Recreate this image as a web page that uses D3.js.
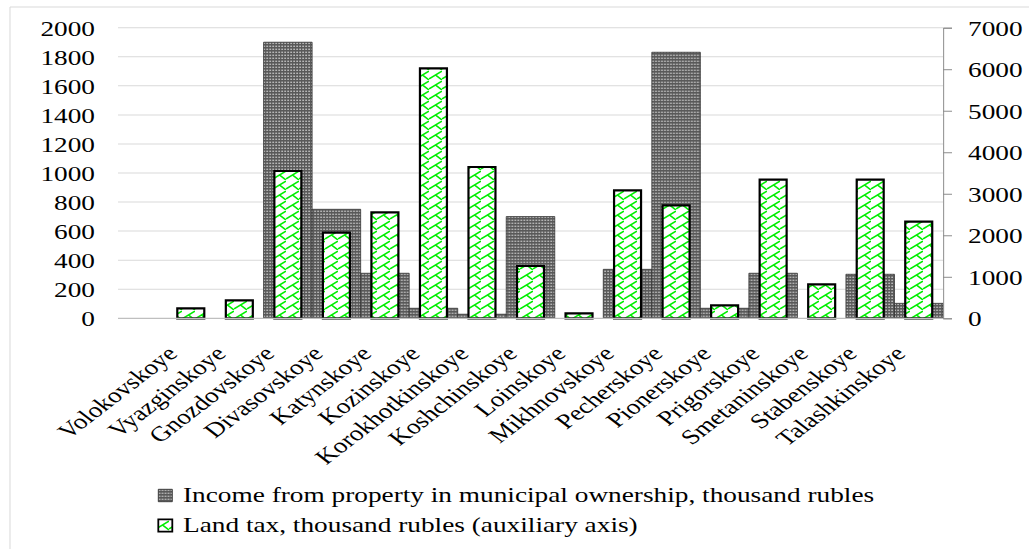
<!DOCTYPE html>
<html><head><meta charset="utf-8">
<script src="https://cdn.jsdelivr.net/npm/d3@7"></script>
<style>
body{margin:0;background:#fff}
text{font-family:"Liberation Serif","Times New Roman",serif;fill:#000}
</style>
</head><body>
<svg id="chart" width="1029" height="549"></svg>
<script>
const categories = ["Volokovskoye","Vyazginskoye","Gnozdovskoye","Divasovskoye","Katynskoye","Kozinskoye","Korokhotkinskoye","Koshchinskoye","Loinskoye","Mikhnovskoye","Pecherskoye","Pionerskoye","Prigorskoye","Smetaninskoye","Stabenskoye","Talashkinskoye"];
const income = [0,0,1900,750,310,69,28,700,0,337,1831,69,310,0,303,103];
const landTax = [265,458,3572,2086,2577,6046,3669,1284,145,3107,2746,337,3363,843,3363,2351];
const leftTicks = [0,200,400,600,800,1000,1200,1400,1600,1800,2000];
const rightTicks = [0,1000,2000,3000,4000,5000,6000,7000];
const seriesNames = ["Income from property in municipal ownership, thousand rubles","Land tax, thousand rubles (auxiliary axis)"];

const SX = 1.3;            // horizontal stretch of the whole picture
const FS = 21;
const svg = d3.select("#chart");
const defs = svg.append("defs");

// dark dotted pattern
const pd = defs.append("pattern").attr("id","dots").attr("patternUnits","userSpaceOnUse")
  .attr("width",2.3).attr("height",3);
pd.append("rect").attr("width",2.3).attr("height",3).attr("fill","#595959");
pd.append("rect").attr("x",0.3).attr("y",0.6).attr("width",1.1).attr("height",1.4).attr("fill","#cdcdcd");

// green shingle pattern
const pg = defs.append("pattern").attr("id","shingle").attr("patternUnits","userSpaceOnUse")
  .attr("width",10).attr("height",10);
pg.append("rect").attr("width",10).attr("height",10).attr("fill","#fff");
pg.append("path").attr("d","M0,9 L10,1 M5,5 L10,10")
  .attr("stroke","#00ee00").attr("stroke-width",1.4).attr("fill","none");

const g = svg.append("g").attr("transform",`scale(${SX},1)`);
const W = 1029/SX;
const px = v => v/SX;      // screen x -> local x

// chart border
g.append("rect").attr("x",px(10)).attr("y",7).attr("width",W).attr("height",600)
  .attr("fill","none").attr("stroke","#d9d9d9").attr("stroke-width",1)
  .attr("vector-effect","non-scaling-stroke");

const x0 = px(118), x1 = px(943), yTop = 27.7, yBot = 318.3;
const x = d3.scaleBand().domain([""].concat(categories)).range([x0,x1]).padding(0);
const yL = d3.scaleLinear().domain([0,2000]).range([yBot,yTop]);
const yR = d3.scaleLinear().domain([0,7000]).range([yBot,yTop]);
const fmt = d3.format("d");

// gridlines
g.append("g").selectAll("line").data(leftTicks.filter(d=>d>0)).join("line")
  .attr("x1",x0).attr("x2",x1).attr("y1",d=>yL(d)).attr("y2",d=>yL(d))
  .attr("stroke","#d9d9d9").attr("stroke-width",1);

// left axis labels
const axL = g.append("g").attr("transform",`translate(${x0},0)`)
  .call(d3.axisLeft(yL).tickValues(leftTicks).tickFormat(fmt).tickSize(0).tickPadding(px(23)));
axL.select(".domain").remove();
axL.selectAll("text").attr("font-size",FS).attr("font-family",null).attr("dy","0.36em");

// dark bars (primary)
const bw = x.bandwidth();
g.append("g").selectAll("rect").data(categories.map((c,i)=>({c,v:income[i]})).filter(d=>d.v>0)).join("rect")
  .attr("x",d=>x(d.c)).attr("width",bw)
  .attr("y",d=>yL(d.v)).attr("height",d=>yBot-yL(d.v))
  .attr("fill","url(#dots)").attr("stroke","#333").attr("stroke-width",0.8)
  .attr("vector-effect","non-scaling-stroke");

// green bars (secondary)
const gw = bw*0.556;
g.append("g").selectAll("rect").data(categories.map((c,i)=>({c,v:landTax[i]}))).join("rect")
  .attr("x",d=>x(d.c)+(bw-gw)/2).attr("width",gw)
  .attr("y",d=>yR(d.v)+1).attr("height",d=>Math.max(0,yBot-yR(d.v)-1))
  .attr("fill","url(#shingle)").attr("stroke","#000").attr("stroke-width",2.2)
  .attr("vector-effect","non-scaling-stroke");

// bottom axis line
g.append("line").attr("x1",x0).attr("x2",x1).attr("y1",yBot).attr("y2",yBot)
  .attr("stroke","#bfbfbf").attr("stroke-width",1.2);

// right axis
const axR = g.append("g").attr("transform",`translate(${x1},0)`)
  .call(d3.axisRight(yR).tickValues(rightTicks).tickFormat(fmt).tickSize(px(9)).tickPadding(px(16)));
axR.select(".domain").attr("stroke","#8c8c8c").attr("stroke-width",1).attr("vector-effect","non-scaling-stroke");
axR.selectAll(".tick line").attr("stroke","#8c8c8c").attr("stroke-width",1);
axR.selectAll("text").attr("font-size",FS).attr("font-family",null).attr("dy","0.36em");

// category labels (rotated)
g.append("g").selectAll("text").data(categories).join("text")
  .attr("transform",d=>`translate(${x(d)+bw/2-px(12)},${355}) rotate(-45)`)
  .attr("text-anchor","end").attr("font-size",FS).text(d=>d);

// legend
const leg = g.append("g");
const legY = [489.3, 519.3];
const fills = ["url(#dots)","url(#shingle)"];
const strokes = ["#333","#000"];
seriesNames.forEach((n,i)=>{
  leg.append("rect").attr("x",px(158.3)).attr("y",legY[i]).attr("width",px(14)).attr("height",12.4)
    .attr("fill",fills[i]).attr("stroke",strokes[i]).attr("stroke-width",i?1.8:0.9)
    .attr("vector-effect","non-scaling-stroke");
  leg.append("text").attr("x",px(183)).attr("y",legY[i]+12.6).attr("font-size",FS).text(n);
});
</script>
</body></html>
